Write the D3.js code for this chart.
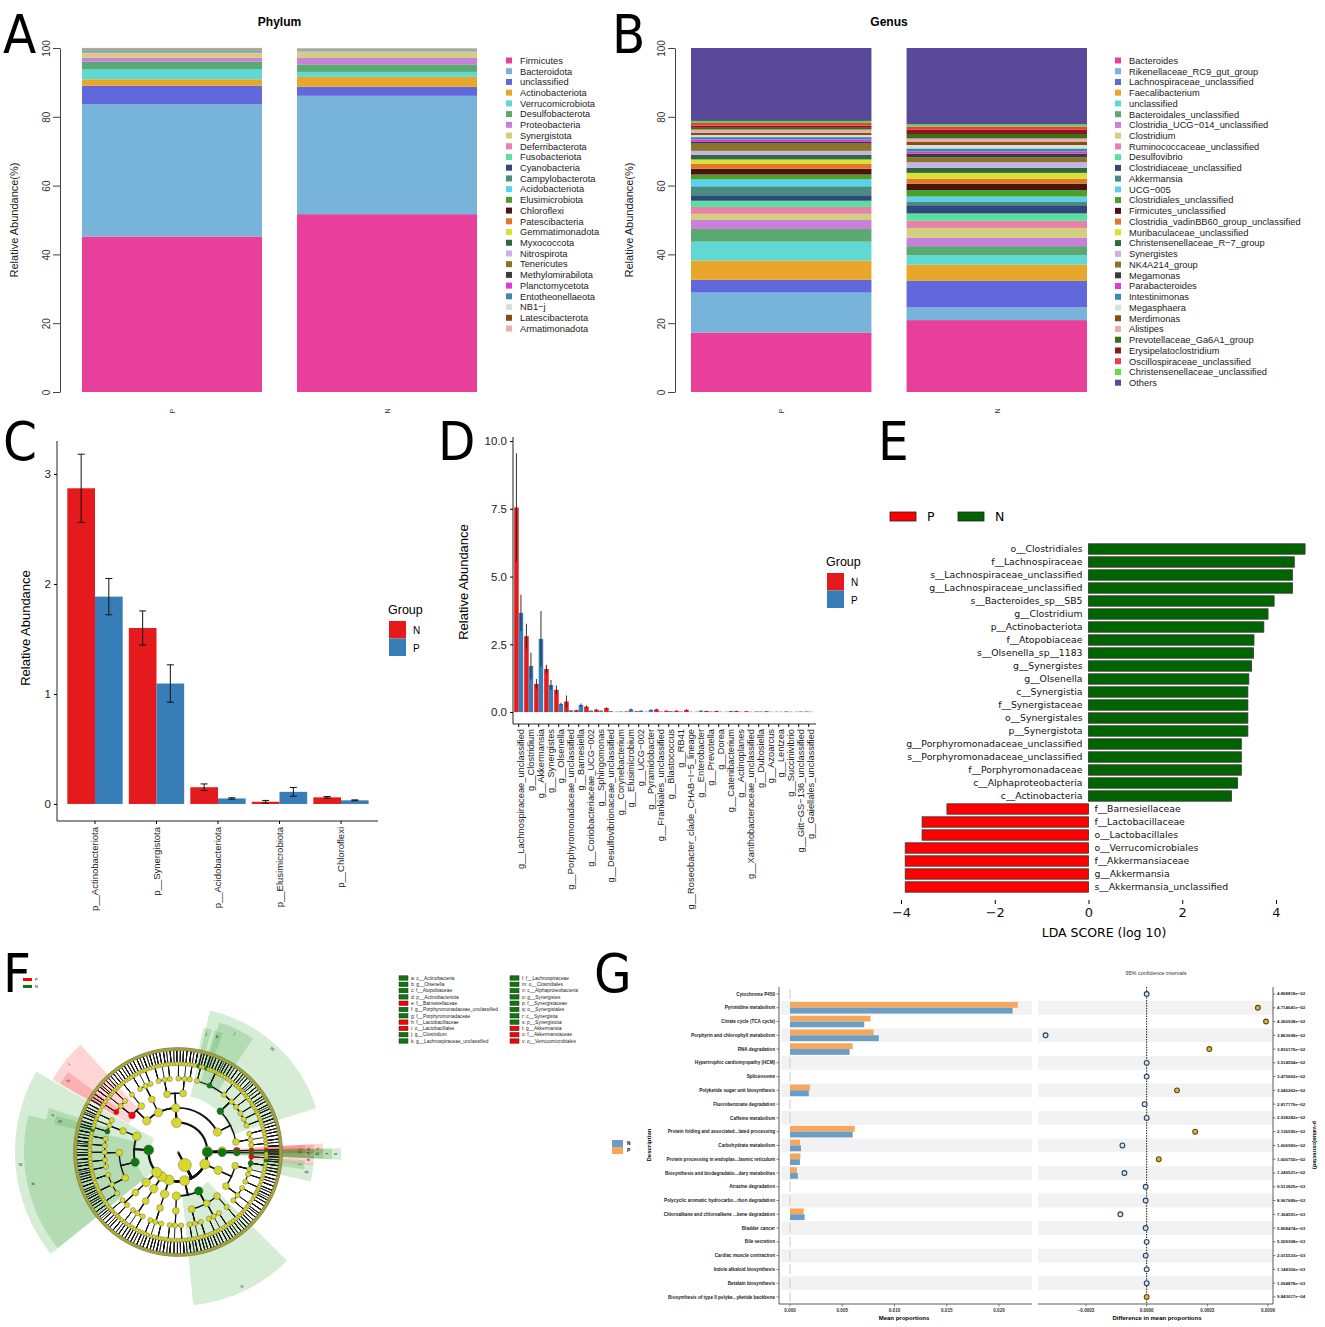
<!DOCTYPE html>
<html lang="en">
<head>
<meta charset="UTF-8">
<title>Microbiome figure</title>
<script src="https://cdn.jsdelivr.net/npm/d3@7"></script>
<style>
  html, body { margin: 0; padding: 0; background: #fff; }
  svg { display: block; font-family: "Liberation Sans", Arial, sans-serif; }
</style>
</head>
<body>
<svg id="fig" width="1325" height="1327"></svg>
<script>
// ---------------- data ----------------
// A: phylum relative abundance (%)
const phylumNames = ['Firmicutes','Bacteroidota','unclassified','Actinobacteriota','Verrucomicrobiota','Desulfobacterota','Proteobacteria','Synergistota','Deferribacterota','Fusobacteriota','Cyanobacteria','Campylobacterota','Acidobacteriota','Elusimicrobiota','Chloroflexi','Patescibacteria','Gemmatimonadota','Myxococcota','Nitrospirota','Tenericutes','Methylomirabilota','Planctomycetota','Entotheonellaeota','NB1−j','Latescibacterota','Armatimonadota'];
const phylumP = [45.2,38.5,5.3,1.9,3.0,2.1,1.2,1.3,0.3,0.2,0.15,0.15,0.15,0.1,0.08,0.07,0.06,0.05,0.04,0.04,0.03,0.03,0.02,0.02,0.02,0.01];
const phylumN = [51.7,34.4,2.6,2.9,1.45,2.2,1.85,1.6,0.3,0.15,0.12,0.1,0.1,0.06,0.05,0.05,0.05,0.04,0.04,0.03,0.03,0.03,0.02,0.02,0.02,0.02];

// B: genus relative abundance (%)
const genusNames = ['Bacteroides','Rikenellaceae_RC9_gut_group','Lachnospiraceae_unclassified','Faecalibacterium','unclassified','Bacteroidales_unclassified','Clostridia_UCG−014_unclassified','Clostridium','Ruminococcaceae_unclassified','Desulfovibrio','Clostridiaceae_unclassified','Akkermansia','UCG−005','Clostridiales_unclassified','Firmicutes_unclassified','Clostridia_vadinBB60_group_unclassified','Muribaculaceae_unclassified','Christensenellaceae_R−7_group','Synergistes','NK4A214_group','Megamonas','Parabacteroides','Intestinimonas','Megasphaera','Merdimonas','Alistipes','Prevotellaceae_Ga6A1_group','Erysipelatoclostridium','Oscillospiraceae_unclassified','Christensenellaceae_unclassified','Others'];
const genusP = [17.3,11.6,3.7,5.6,5.5,3.7,2.6,1.8,2.0,1.8,1.6,2.6,2.0,1.4,1.7,1.5,1.2,1.4,1.1,2.1,0.5,0.7,0.7,0.6,0.6,1.0,0.5,0.6,0.8,0.6,21.2];
const genusN = [20.9,3.7,7.7,4.7,2.8,2.6,2.5,2.8,2.1,2.1,2.4,1.1,1.4,1.9,1.8,1.5,1.7,1.5,1.6,1.4,1.1,0.6,0.9,1.0,1.0,0.9,1.3,1.2,1.0,0.6,22.2];

// C: phylum level differences
const phylaC = ['p__Actinobacteriota','p__Synergistota','p__Acidobacteriota','p__Elusimicrobiota','p__Chloroflexi'];
const cN = [2.87,1.60,0.152,0.02,0.06];
const cNse = [0.31,0.155,0.03,0.012,0.008];
const cP = [1.885,1.095,0.05,0.11,0.033];
const cPse = [0.165,0.17,0.006,0.04,0.004];

// D: genus level differences
const genusD = ['g__Lachnospiraceae_unclassified','g__Clostridium','g__Akkermansia','g__Synergistes','g__Olsenella','g__Porphyromonadaceae_unclassified','g__Barnesiella','g__Coriobacteriaceae_UCG−002','g__Sphingomonas','g__Desulfovibrionaceae_unclassified','g__Corynebacterium','g__Elusimicrobium','g__UCG−002','g__Pyramidobacter','g__Frankiales_unclassified','g__Blastococcus','g__RB41','g__Roseobacter_clade_CHAB−I−5_lineage','g__Enterobacter','g__Prevotella','g__Dorea','g__Catenibacterium','g__Actinoplanes','g__Xanthobacteraceae_unclassified','g__Dubosiella','g__Azoarcus','g__Lentzea','g__Succinivibrio','g__Gitt−GS−136_unclassified','g__Gaiellales_unclassified'];
const dN = [7.55,2.80,1.04,1.59,0.82,0.39,0.07,0.20,0.09,0.15,0.01,0.02,0.03,0.01,0.10,0.05,0.05,0.08,0.01,0.04,0.04,0.01,0.04,0.03,0.02,0.03,0.01,0.02,0.01,0.02];
const dNse = [2.0,0.46,0.18,0.16,0.16,0.22,0.02,0.04,0.02,0.03,0.005,0.01,0.01,0.005,0.02,0.01,0.01,0.02,0.005,0.01,0.01,0.005,0.01,0.01,0.005,0.01,0.005,0.005,0.005,0.005];
const dP = [3.66,1.70,2.70,1.00,0.30,0.06,0.26,0.05,0.05,0.03,0.02,0.10,0.05,0.08,0.02,0.03,0.02,0.01,0.05,0.02,0.01,0.04,0.01,0.01,0.02,0.01,0.01,0.01,0.02,0.01];
const dPse = [0.67,0.49,1.03,0.18,0.04,0.02,0.06,0.01,0.01,0.01,0.005,0.03,0.01,0.02,0.005,0.01,0.005,0.005,0.01,0.005,0.005,0.01,0.005,0.005,0.005,0.005,0.005,0.005,0.005,0.005];

// E: LEfSe LDA scores
const ldaTaxa = ['o__Clostridiales','f__Lachnospiraceae','s__Lachnospiraceae_unclassified','g__Lachnospiraceae_unclassified','s__Bacteroides_sp__SB5','g__Clostridium','p__Actinobacteriota','f__Atopobiaceae','s__Olsenella_sp__1183','g__Synergistes','g__Olsenella','c__Synergistia','f__Synergistaceae','o__Synergistales','p__Synergistota','g__Porphyromonadaceae_unclassified','s__Porphyromonadaceae_unclassified','f__Porphyromonadaceae','c__Alphaproteobacteria','c__Actinobacteria','f__Barnesiellaceae','f__Lactobacillaceae','o__Lactobacillales','o__Verrucomicrobiales','f__Akkermansiaceae','g__Akkermansia','s__Akkermansia_unclassified'];
const ldaScore = [4.62,4.39,4.35,4.35,3.96,3.83,3.74,3.53,3.52,3.48,3.42,3.40,3.40,3.40,3.40,3.26,3.26,3.26,3.18,3.05,-3.02,-3.55,-3.55,-3.91,-3.91,-3.91,-3.91];
const ldaGroup = ['N','N','N','N','N','N','N','N','N','N','N','N','N','N','N','N','N','N','N','N','P','P','P','P','P','P','P'];

// F: cladogram biomarkers
const cladeLetters = ['a','b','c','d','e','f','g','h','i','j','k','l','m','n','o','p','q','r','s','t','u','v'];
const cladeNames = ['c__Actinobacteria','g__Olsenella','f__Atopobiaceae','p__Actinobacteriota','f__Barnesiellaceae','g__Porphyromonadaceae_unclassified','f__Porphyromonadaceae','f__Lactobacillaceae','o__Lactobacillales','g__Clostridium','g__Lachnospiraceae_unclassified','f__Lachnospiraceae','o__Clostridiales','c__Alphaproteobacteria','g__Synergistes','f__Synergistaceae','o__Synergistales','c__Synergistia','p__Synergistota','g__Akkermansia','f__Akkermansiaceae','o__Verrucomicrobiales'];
const cladeGroup = ['N','N','N','N','P','N','N','P','P','N','N','N','N','N','N','N','N','N','N','P','P','P'];
// taxonomy skeleton: [name, children]; a number stands for that many unnamed sub-clades
const cladeTree = ['root', [
  ['k__Bacteria', [
    ['p__Firmicutes', [
      ['c__Bacilli', [['o__Lactobacillales', [['f__Lactobacillaceae', 3], 2]], 1]],
      ['c__Erysipelotrichia', 1],
      ['c__Negativicutes', 2],
      ['c__Clostridia', [
        ['o__Clostridiales', [
          ['f__Clostridiaceae', [['g__Clostridium', 3], 2]],
          ['f__Lachnospiraceae', [['g__Lachnospiraceae_unclassified', 4], 8]],
          ['f__Ruminococcaceae', 6],
          5]],
        1]]]],
    ['p__Verrucomicrobiota', [['c__Verrucomicrobiae', [['o__Verrucomicrobiales', [['f__Akkermansiaceae', [['g__Akkermansia', 3]]]]]]]]],
    ['p__Synergistota', [['c__Synergistia', [['o__Synergistales', [['f__Synergistaceae', [['g__Synergistes', 2], 1]]]]]]]],
    ['p__Bacteroidota', [['c__Bacteroidia', [
      ['o__Bacteroidales', [['f__Barnesiellaceae', 2], ['f__Porphyromonadaceae', [['g__Porphyromonadaceae_unclassified', 3], 3]], 3]],
      1]]]],
    ['p__Proteobacteria', [['c__Alphaproteobacteria', 3], ['c__Gammaproteobacteria', 1]]],
    ['p__Desulfobacterota', [['c__Desulfovibrionia', 1]]],
    ['p__Campylobacterota', [['c__Campylobacteria', 1]]],
    ['p__Cyanobacteria', [['c__Vampirivibrionia', [['o__Gastranaerophilales', 2]]]]],
    ['p__Actinobacteriota', [
      ['c__Actinobacteria', 2],
      ['c__Coriobacteriia', [['o__Coriobacteriales', [['f__Atopobiaceae', [['g__Olsenella', 3], 2]], 2]]]]]]]]]];
const cladeFan = [4,3,5,2,6,3,4,2,5,3,4,1];

// G: STAMP KEGG pathways
const pathways = ['Cytochrome P450','Pyrimidine metabolism','Citrate cycle (TCA cycle)','Porphyrin and chlorophyll metabolism','RNA degradation','Hypertrophic cardiomyopathy (HCM)','Spliceosome','Polyketide sugar unit biosynthesis','Fluorobenzoate degradation','Caffeine metabolism','Protein folding and associated...lated processing','Carbohydrate metabolism','Protein processing in endoplas...lasmic reticulum','Biosynthesis and biodegradatio...dary metabolites','Atrazine degradation','Polycyclic aromatic hydrocarbo...rbon degradation','Chloroalkane and chloroalkene ...kene degradation','Bladder cancer','Bile secretion','Cardiac muscle contraction','Indole alkaloid biosynthesis','Betalain biosynthesis','Biosynthesis of type II polyke...yketide backbone'];
const meanP = [0,0.0218,0.0077,0.0080,0.0060,0,0,0.0019,0,0,0.0062,0.00095,0.0010,0.00065,0,0,0.0013,0,0,0,0,0,0];
const meanN = [0,0.0213,0.0071,0.0085,0.0057,0,0,0.0018,0,0,0.0060,0.00105,0.00095,0.00075,0,0,0.0014,0,0,0,0,0,0];
const diffMean = [0,0.00055,0.00059,-0.00050,0.00031,0,0,0.00015,-0.00001,0,0.00024,-0.00012,0.00006,-0.00011,-0.000005,-0.000005,-0.00013,-0.000005,0,-0.000005,0,0,0];
const diffGroup = ['N','P','P','N','P','N','N','P','N','N','P','N','P','N','N','N','N','N','N','N','N','N','P'];
const pValues = ['4.868818e−02','4.714641e−02','4.260938e−02','3.863698e−02','3.816179e−02','3.514554e−02','3.475662e−02','3.045262e−02','2.817779e−02','2.638282e−02','2.136595e−02','1.606983e−02','1.600755e−02','1.249521e−02','9.513825e−03','8.967689e−03','7.364591e−03','5.858474e−03','5.509308e−03','2.015533e−03','1.148300e−03','1.094878e−03','9.843017e−04'];

// ---------------- drawing ----------------
const palette = ['#e8409a','#78b4da','#6068dc','#e8a62a','#62d8d2','#5aa872','#c880d8','#d2d07e','#e882a8','#58e0a0','#2f4a7a','#4a8c80','#5ad2ee','#4aa02a','#4a1410','#e07828','#d8e030','#2e6a40','#c8b4e4','#8a7428','#3c3c3c','#e038d8','#3a8aa8','#d4e2de','#8c4a14','#e8b0ac','#3a6e1c','#8a1818','#e84048','#5ae038','#5a489a'];
const RED = '#e41a1c', BLUE = '#377eb8';
const svg = d3.select('#fig');
svg.append('rect').attr('width', 1325).attr('height', 1327).attr('fill', '#fff');

function panelLetter(t, x, y) {
  svg.append('text').attr('x', x).attr('y', y).text(t)
    .attr('font-family', '"DejaVu Sans Condensed", "Liberation Sans Narrow", sans-serif')
    .attr('font-size', 54).attr('fill', '#000');
}
[['A', 3, 53], ['B', 612, 53], ['C', 3, 460], ['D', 438, 460], ['E', 878, 460], ['F', 3, 992], ['G', 594, 992]]
  .forEach(d => panelLetter(...d));

// --- A & B stacked bars ---
function stackPanel(o) {
  const g = svg.append('g');
  const y = d3.scaleLinear().domain([0, 100]).range([392, 48]);
  const x = d3.scaleBand().domain(['P', 'N']).range(o.barRange).paddingInner(0.163);
  const rows = [o.P, o.N].map((vals, j) => {
    const r = {group: j ? 'N' : 'P'};
    o.names.forEach((n, i) => { r[n] = vals[i]; });
    return r;
  });
  const series = d3.stack().keys(o.names)(rows);
  g.selectAll('g.layer').data(series).join('g')
    .attr('fill', (d, i) => palette[i])
    .selectAll('rect').data(d => d).join('rect')
    .attr('x', d => x(d.data.group)).attr('width', x.bandwidth())
    .attr('y', d => y(d[1])).attr('height', d => Math.max(0, y(d[0]) - y(d[1])));

  const ax = g.append('g').attr('transform', `translate(${o.axisX},0)`)
    .call(d3.axisLeft(y).tickValues([0, 20, 40, 60, 80, 100]).tickSize(7).tickSizeOuter(0));
  ax.select('.domain').attr('stroke', '#444');
  ax.selectAll('.tick line').attr('stroke', '#444');
  ax.selectAll('.tick text').attr('transform', 'rotate(-90)').attr('x', 0).attr('y', -10)
    .attr('dy', 0).attr('text-anchor', 'middle').attr('font-size', 10).attr('fill', '#333');

  g.append('text').attr('transform', `translate(${o.axisX - 42},220) rotate(-90)`)
    .attr('text-anchor', 'middle').attr('font-size', 11).attr('fill', '#222')
    .text('Relative Abundance(%)');
  g.append('text').attr('x', (o.barRange[0] + o.barRange[1]) / 2).attr('y', 26)
    .attr('text-anchor', 'middle').attr('font-size', 12).attr('font-weight', 'bold').text(o.title);
  ['P', 'N'].forEach(k => {
    g.append('text').attr('transform', `translate(${x(k) + x.bandwidth() / 2 + 3},411) rotate(-90)`)
      .attr('text-anchor', 'middle').attr('font-size', 7).attr('fill', '#333').text(k);
  });
  const lg = g.append('g');
  o.names.forEach((n, i) => {
    const yy = 60.5 + i * o.step;
    lg.append('rect').attr('x', o.legendX).attr('y', yy - 3).attr('width', 6).attr('height', 6).attr('fill', palette[i]);
    lg.append('text').attr('x', o.legendX + 14).attr('y', yy + 3.3).attr('font-size', 9.3).attr('fill', '#222').text(n);
  });
}
stackPanel({names: phylumNames, P: phylumP, N: phylumN, barRange: [82, 477], axisX: 60, title: 'Phylum', legendX: 506, step: 10.72});
stackPanel({names: genusNames, P: genusP, N: genusN, barRange: [691, 1087], axisX: 675, title: 'Genus', legendX: 1115, step: 10.74});

// legend for grouped bars (C, D)
function groupLegend(x, y) {
  svg.append('text').attr('x', x - 1).attr('y', y).attr('font-size', 12.5).text('Group');
  [['N', RED], ['P', BLUE]].forEach(([k, c], i) => {
    svg.append('rect').attr('x', x).attr('y', y + 7 + i * 17.5).attr('width', 17).attr('height', 17.5).attr('fill', c);
    svg.append('text').attr('x', x + 24).attr('y', y + 20 + i * 17.5).attr('font-size', 10).text(k);
  });
}

// --- C ---
(function () {
  const g = svg.append('g');
  const x = d3.scaleBand().domain(phylaC).range([64.25, 371.75]).paddingInner(0.1).paddingOuter(0.05);
  const y = d3.scaleLinear().domain([-0.155, 3.3]).range([821, 441]);
  const bw = x.bandwidth() / 2;
  phylaC.forEach((c, i) => {
    [[cN[i], cNse[i], RED, 0], [cP[i], cPse[i], BLUE, 1]].forEach(([v, se, col, k]) => {
      const x0 = x(c) + k * bw;
      g.append('rect').attr('x', x0).attr('y', y(v)).attr('width', bw).attr('height', y(0) - y(v)).attr('fill', col);
      const cx = x0 + bw / 2;
      g.append('path').attr('d', `M${cx - 3.5},${y(v + se)}H${cx + 3.5}M${cx},${y(v + se)}V${y(v - se)}M${cx - 3.5},${y(v - se)}H${cx + 3.5}`)
        .attr('stroke', '#111').attr('stroke-width', 1).attr('fill', 'none');
    });
  });
  g.append('path').attr('d', 'M57,441V821H378').attr('stroke', '#222').attr('fill', 'none');
  const ay = g.append('g').attr('transform', 'translate(57,0)')
    .call(d3.axisLeft(y).tickValues([0, 1, 2, 3]).tickFormat(d3.format('d')).tickSize(3));
  ay.select('.domain').remove();
  ay.selectAll('text').attr('font-size', 11.5).attr('fill', '#222');
  const ax = g.append('g').attr('transform', 'translate(0,821)')
    .call(d3.axisBottom(x).tickSize(3));
  ax.select('.domain').remove();
  ax.selectAll('text').attr('transform', 'rotate(-90)').attr('x', -6).attr('y', 0).attr('dy', '0.35em')
    .attr('text-anchor', 'end').attr('font-size', 9.5).attr('fill', '#222');
  g.append('text').attr('transform', 'translate(30,628) rotate(-90)').attr('text-anchor', 'middle')
    .attr('font-size', 13).text('Relative Abundance');
  groupLegend(389, 614);
})();

// --- D ---
(function () {
  const g = svg.append('g');
  const x = d3.scaleBand().domain(genusD).range([513.7, 813.7]).paddingInner(0.1).paddingOuter(0.05);
  const y = d3.scaleLinear().domain([-0.44, 10.15]).range([724, 437]);
  const bw = x.bandwidth() / 2;
  genusD.forEach((c, i) => {
    [[dN[i], dNse[i], RED, 0], [dP[i], dPse[i], BLUE, 1]].forEach(([v, se, col, k]) => {
      const x0 = x(c) + k * bw;
      g.append('rect').attr('x', x0).attr('y', y(v)).attr('width', bw).attr('height', y(0) - y(v)).attr('fill', col);
      g.append('line').attr('x1', x0 + bw / 2).attr('x2', x0 + bw / 2)
        .attr('y1', y(v + se)).attr('y2', y(Math.max(0, v - se)))
        .attr('stroke', '#222').attr('stroke-opacity', 0.85).attr('stroke-width', 1.1);
    });
  });
  g.append('path').attr('d', 'M513,437V724H816').attr('stroke', '#222').attr('fill', 'none');
  const ay = g.append('g').attr('transform', 'translate(513,0)')
    .call(d3.axisLeft(y).tickValues([0, 2.5, 5, 7.5, 10]).tickFormat(d3.format('.1f')).tickSize(3));
  ay.select('.domain').remove();
  ay.selectAll('text').attr('font-size', 11.5).attr('fill', '#222');
  const ax = g.append('g').attr('transform', 'translate(0,724)')
    .call(d3.axisBottom(x).tickSize(3));
  ax.select('.domain').remove();
  ax.selectAll('text').attr('transform', 'rotate(-90)').attr('x', -5).attr('y', 2).attr('dy', '0.35em')
    .attr('text-anchor', 'end').attr('font-size', 9.3).attr('fill', '#222');
  g.append('text').attr('transform', 'translate(468,582) rotate(-90)').attr('text-anchor', 'middle')
    .attr('font-size', 13).text('Relative Abundance');
  groupLegend(827, 566);
})();

// --- E ---
(function () {
  const g = svg.append('g').attr('font-family', '"DejaVu Sans", sans-serif');
  const x = d3.scaleLinear().domain([-4, 4]).range([901, 1276]);
  const y = d3.scaleBand().domain(ldaTaxa).range([542.5, 893.5]);
  const col = {P: '#ff0000', N: '#006400'};
  ldaTaxa.forEach((t, i) => {
    const v = ldaScore[i];
    g.append('rect').attr('x', x(Math.min(0, v))).attr('width', Math.abs(x(v) - x(0)))
      .attr('y', y(t) + 1.3).attr('height', y.bandwidth() - 2.6)
      .attr('fill', col[ldaGroup[i]]).attr('stroke', '#333').attr('stroke-width', 0.8);
    g.append('text').attr('x', v > 0 ? x(0) - 6 : x(0) + 6).attr('y', y(t) + y.bandwidth() / 2 + 3.3)
      .attr('text-anchor', v > 0 ? 'end' : 'start').attr('font-size', 9.3).attr('fill', '#111').text(t);
  });
  const ax = g.append('g').attr('transform', 'translate(0,900)')
    .call(d3.axisBottom(x).tickValues([-4, -2, 0, 2, 4]).tickSize(4).tickPadding(4));
  ax.select('.domain').remove();
  ax.selectAll('text').attr('font-size', 13).attr('font-family', '"DejaVu Sans", sans-serif').attr('fill', '#111');
  g.append('text').attr('x', 1104).attr('y', 937).attr('text-anchor', 'middle').attr('font-size', 12.5).text('LDA SCORE (log 10)');
  [['P', 890], ['N', 958]].forEach(([k, xx]) => {
    g.append('rect').attr('x', xx).attr('y', 512).attr('width', 26).attr('height', 9)
      .attr('fill', col[k]).attr('stroke', '#222').attr('stroke-width', 0.8);
    g.append('text').attr('x', xx + 37).attr('y', 521).attr('font-size', 12.5).text(k);
  });
})();

// --- F: cladogram ---
(function () {
  const cx = 178, cy = 1152, step = 14.7;
  let fanPos = 0;
  function anonClade(depth) {
    const node = {name: ''};
    if (depth < 7) {
      const k = cladeFan[fanPos++ % cladeFan.length];
      node.children = d3.range(k).map(() => anonClade(depth + 1));
    }
    return node;
  }
  function buildClade(spec, depth) {
    const [name, kids] = spec;
    const node = {name, children: []};
    (typeof kids === 'number' ? [kids] : kids).forEach(k => {
      if (typeof k === 'number') { for (let i = 0; i < k; i++) node.children.push(anonClade(depth + 1)); }
      else node.children.push(buildClade(k, depth + 1));
    });
    if (!node.children.length) delete node.children;
    return node;
  }
  const root = d3.hierarchy(buildClade(cladeTree, 0));
  d3.cluster().size([2 * Math.PI, 1]).separation(() => 1)(root);
  const nLeaves = root.leaves().length;
  const offset = 300 / 180 * Math.PI;
  root.each(d => { d.ang = offset + d.x * (nLeaves - 1) / nLeaves; d.r = d.depth * step; });
  const pol = (a, r) => [cx + r * Math.sin(a), cy - r * Math.cos(a)];
  const g = svg.append('g');

  // highlighted clades
  const hl = new Map(cladeNames.map((n, i) => [n, {letter: cladeLetters[i], group: cladeGroup[i]}]));
  const fillCol = {N: '#2ca02c', P: '#ff2a2a'};
  const nodeCol = {N: '#0b7a0b', P: '#ff0000'};
  const marked = root.descendants().filter(d => hl.has(d.data.name)).sort((a, b) => a.depth - b.depth);
  const dA = 2 * Math.PI / nLeaves;
  marked.forEach(d => {
    const lv = d.leaves();
    let a0 = d3.min(lv, l => l.ang) - dA / 2, a1 = d3.max(lv, l => l.ang) + dA / 2;
    const minW = 4 / 180 * Math.PI;
    if (a1 - a0 < minW) { const m = (a0 + a1) / 2; a0 = m - minW / 2; a1 = m + minW / 2; }
    const outer = 118 + (7 - d.depth) * 9;
    const h = hl.get(d.data.name);
    g.append('path').attr('transform', `translate(${cx},${cy})`)
      .attr('d', d3.arc()({innerRadius: d.r - 2, outerRadius: outer, startAngle: a0, endAngle: a1}))
      .attr('fill', fillCol[h.group]).attr('fill-opacity', 0.2);
    const m = (a0 + a1) / 2, [lx, ly] = pol(m, outer - 5);
    const deg = m * 180 / Math.PI;
    g.append('text').attr('transform', `translate(${lx},${ly}) rotate(${deg})`)
      .attr('text-anchor', 'middle').attr('dy', '0.35em').attr('font-size', 5).attr('fill', '#333').text(h.letter);
  });

  // links: radial out from parent, then arc along the child's ring
  const linkW = [0, 2.4, 2.2, 1.8, 1.4, 1.1, 0.9, 0.8];
  root.links().forEach(({source: p, target: c}) => {
    const [x0, y0] = pol(p.ang, p.r), [xm, ym] = pol(p.ang, c.r), [x1, y1] = pol(c.ang, c.r);
    const sweep = c.ang > p.ang ? 1 : 0, large = Math.abs(c.ang - p.ang) > Math.PI ? 1 : 0;
    const path = c.ang === p.ang ? `M${x0},${y0}L${x1},${y1}` : `M${x0},${y0}L${xm},${ym}A${c.r},${c.r} 0 ${large} ${sweep} ${x1},${y1}`;
    g.append('path').attr('d', path).attr('fill', 'none').attr('stroke', '#111').attr('stroke-width', linkW[c.depth]);
  });
  // nodes
  const rad = [0.8, 6.5, 5, 4.2, 3.4, 2.6, 2, 1.5];
  g.selectAll('circle.node').data(root.descendants()).join('circle')
    .attr('cx', d => pol(d.ang, d.r)[0]).attr('cy', d => pol(d.ang, d.r)[1])
    .attr('r', d => rad[d.depth])
    .attr('fill', d => hl.has(d.data.name) ? nodeCol[hl.get(d.data.name).group] : '#d8d82a')
    .attr('stroke', '#555').attr('stroke-width', 0.4);

  // legends
  [['P', '#ff0000', 978], ['N', '#0b7a0b', 985]].forEach(([k, c, yy]) => {
    svg.append('rect').attr('x', 23).attr('y', yy).attr('width', 9).attr('height', 3).attr('fill', c);
    svg.append('text').attr('x', 35).attr('y', yy + 3).attr('font-size', 4).text(k);
  });
  cladeLetters.forEach((l, i) => {
    const col = i < 11 ? 0 : 1, row = i % 11;
    const sx = col ? 510 : 399, yy = 978 + row * 6.3;
    svg.append('rect').attr('x', sx).attr('y', yy - 2.2).attr('width', 9).attr('height', 4.4)
      .attr('fill', nodeCol[cladeGroup[i]]).attr('stroke', '#222').attr('stroke-width', 0.5);
    svg.append('text').attr('x', sx + 12).attr('y', yy + 1.7).attr('font-size', 4.8).attr('fill', '#222')
      .text(`${l}: ${cladeNames[i]}`);
  });
})();

// --- G: STAMP extended error bar ---
(function () {
  const g = svg.append('g').attr('font-family', '"Liberation Sans", Arial, sans-serif');
  const y = d3.scaleBand().domain(pathways).range([987.1, 1303.8]);
  const yc = p => y(p) + y.bandwidth() / 2;
  const xM = d3.scaleLinear().domain([0, 0.02]).range([790, 999]);
  const xD = d3.scaleLinear().domain([-0.0003, 0.0006]).range([1086, 1268]);
  const ORANGE = '#f5a75a', SBLUE = '#6b9dc6';
  pathways.forEach((p, i) => {
    if (i % 2 === 1) {
      g.append('rect').attr('x', 781).attr('y', y(p)).attr('width', 251).attr('height', y.bandwidth()).attr('fill', '#f2f2f2');
      g.append('rect').attr('x', 1038).attr('y', y(p)).attr('width', 235).attr('height', y.bandwidth()).attr('fill', '#f2f2f2');
    }
  });
  pathways.forEach((p, i) => {
    const c = yc(p);
    g.append('rect').attr('x', xM(0)).attr('y', c - 5.8).attr('width', xM(meanP[i]) - xM(0)).attr('height', 5.8).attr('fill', ORANGE);
    g.append('rect').attr('x', xM(0)).attr('y', c).attr('width', xM(meanN[i]) - xM(0)).attr('height', 5.8).attr('fill', SBLUE);
    if (meanP[i] === 0) g.append('line').attr('x1', xM(0)).attr('x2', xM(0)).attr('y1', c - 5).attr('y2', c + 5).attr('stroke', '#ccc');
    g.append('text').attr('x', 775).attr('y', c + 1.6).attr('text-anchor', 'end').attr('font-size', 4.6)
      .attr('font-weight', 'bold').attr('fill', '#222').text(p);
    g.append('line').attr('x1', 776.5).attr('x2', 779).attr('y1', c).attr('y2', c).attr('stroke', '#333').attr('stroke-width', 0.6);
    g.append('line').attr('x1', 1273).attr('x2', 1275.5).attr('y1', c).attr('y2', c).attr('stroke', '#333').attr('stroke-width', 0.6);
    g.append('text').attr('x', 1277).attr('y', c + 1.5).attr('font-size', 4.4).attr('font-weight', 'bold').attr('fill', '#222').text(pValues[i]);
  });
  g.append('path').attr('d', 'M779,987V1304H1032').attr('stroke', '#333').attr('fill', 'none').attr('stroke-width', 0.8);
  g.append('path').attr('d', 'M1038,1304H1273V987').attr('stroke', '#333').attr('fill', 'none').attr('stroke-width', 0.8);
  g.append('line').attr('x1', xD(0)).attr('x2', xD(0)).attr('y1', 987).attr('y2', 1304)
    .attr('stroke', '#111').attr('stroke-width', 1).attr('stroke-dasharray', '1.4,1.2');
  [0, 0.005, 0.01, 0.015, 0.02].forEach(v => {
    g.append('line').attr('x1', xM(v)).attr('x2', xM(v)).attr('y1', 1304).attr('y2', 1306.5).attr('stroke', '#333').attr('stroke-width', 0.6);
    g.append('text').attr('x', xM(v)).attr('y', 1312).attr('text-anchor', 'middle').attr('font-size', 4.6)
      .attr('font-weight', 'bold').attr('fill', '#333').text(d3.format('.3f')(v));
  });
  [-0.0003, 0, 0.0003, 0.0006].forEach(v => {
    g.append('line').attr('x1', xD(v)).attr('x2', xD(v)).attr('y1', 1304).attr('y2', 1306.5).attr('stroke', '#333').attr('stroke-width', 0.6);
    g.append('text').attr('x', xD(v)).attr('y', 1312).attr('text-anchor', 'middle').attr('font-size', 4.6)
      .attr('font-weight', 'bold').attr('fill', '#333').text(d3.format('.4f')(v));
  });
  pathways.forEach((p, i) => {
    const isP = diffGroup[i] === 'P';
    g.append('circle').attr('cx', xD(diffMean[i])).attr('cy', yc(p)).attr('r', 2.4)
      .attr('fill', isP ? '#e8b23c' : '#d6e4f0').attr('stroke', isP ? '#5a4a18' : '#27435f').attr('stroke-width', 1.1);
  });
  g.append('text').attr('x', 904).attr('y', 1320).attr('text-anchor', 'middle').attr('font-size', 6).attr('font-weight', 'bold').text('Mean proportions');
  g.append('text').attr('x', 1157).attr('y', 1320).attr('text-anchor', 'middle').attr('font-size', 6).attr('font-weight', 'bold').text('Difference in mean proportions');
  g.append('text').attr('x', 1156).attr('y', 975).attr('text-anchor', 'middle').attr('font-size', 5.5).attr('fill', '#333').text('95% confidence intervals');
  g.append('text').attr('transform', 'translate(1313,1145) rotate(90)').attr('text-anchor', 'middle').attr('font-size', 5.5).attr('font-weight', 'bold').text('p-value(corrected)');
  g.append('text').attr('transform', 'translate(651,1145) rotate(-90)').attr('text-anchor', 'middle').attr('font-size', 6).attr('font-weight', 'bold').text('Description');
  [['N', SBLUE, 1140], ['P', ORANGE, 1147]].forEach(([k, c, yy]) => {
    g.append('rect').attr('x', 612).attr('y', yy).attr('width', 11).attr('height', 7).attr('fill', c);
    g.append('text').attr('x', 627).attr('y', yy + 5).attr('font-size', 4.8).attr('font-weight', 'bold').text(k);
  });
})();
</script>
</body>
</html>
